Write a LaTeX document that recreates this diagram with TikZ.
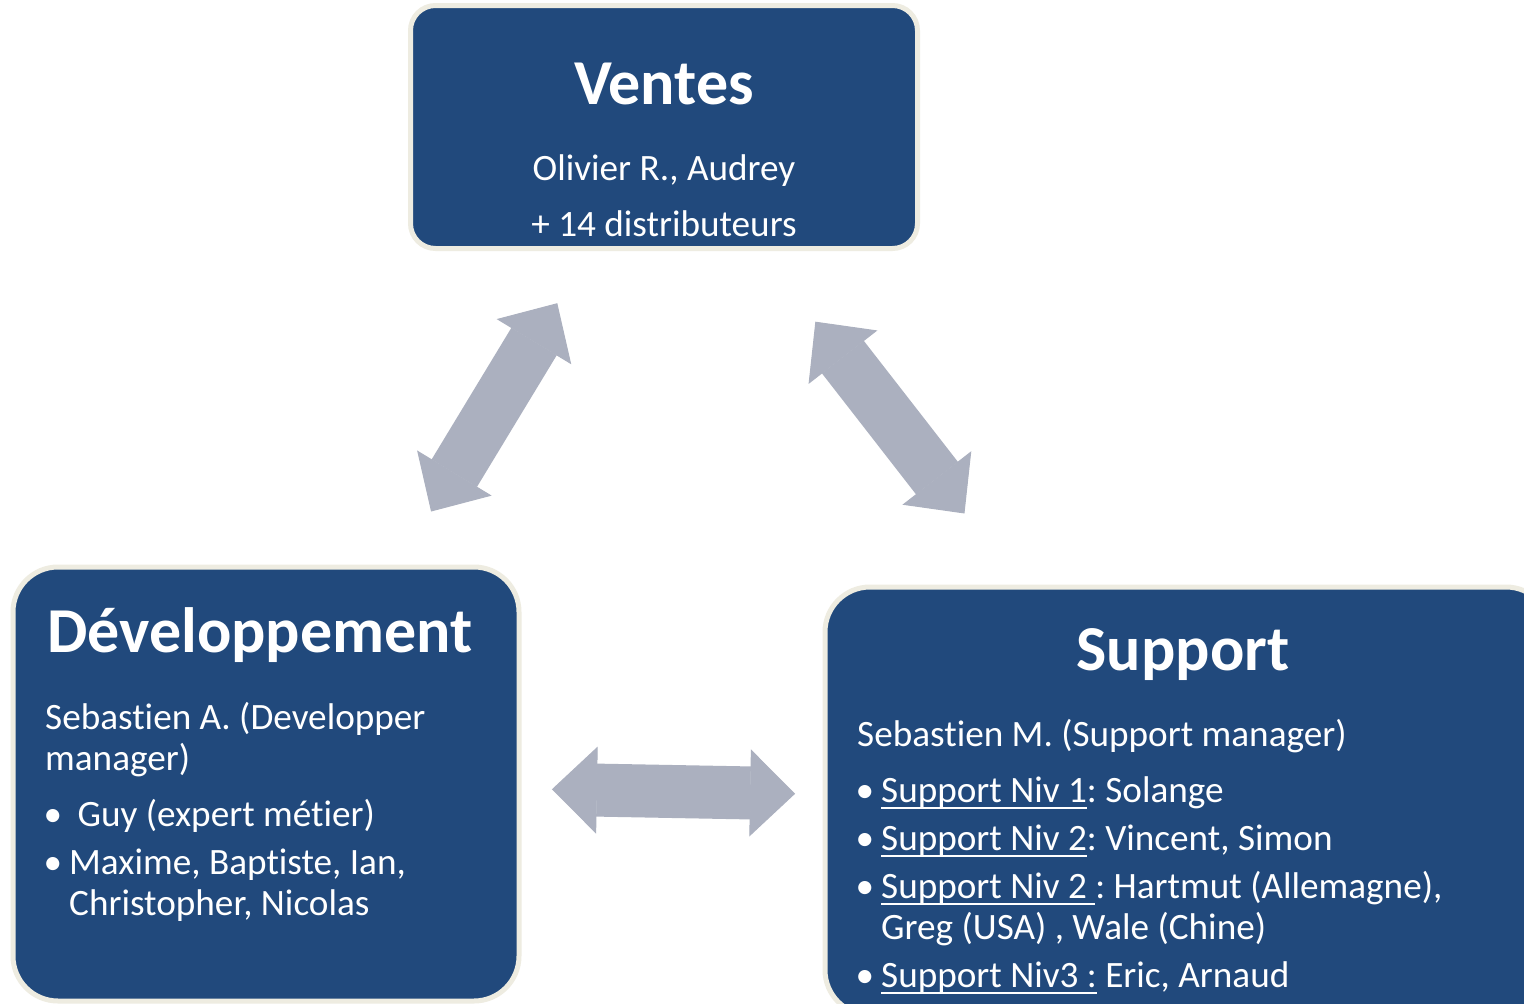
\documentclass[tikz,border=0pt]{standalone}
\usepackage{fontspec}
\setmainfont{Carlito}[Ligatures=NoCommon]
\usepackage{tikz}
\usetikzlibrary{arrows.meta}
\definecolor{bleufonce}{RGB}{33,73,124}
\definecolor{beigebord}{RGB}{238,236,225}
\definecolor{grisfleche}{RGB}{171,176,191}
\tikzset{
  bloc/.style={draw=beigebord,line width=5pt,fill=bleufonce,rounded corners=#1,inner sep=0pt},
  titre/.style={text=white,font=\fontsize{64}{70}\selectfont\bfseries,inner sep=0pt,anchor=base},
  texte/.style={text=white,font=\fontsize{37.2}{41}\selectfont,inner sep=0pt,anchor=base west},
  fleche/.style={draw=grisfleche,line width=53pt,line cap=butt,
    {Triangle[length=45pt,width=87pt,line width=1pt]}-{Triangle[length=45pt,width=87pt,line width=1pt]}}
}
\frenchspacing
\newcommand{\souligne}[1]{\setbox0\hbox{#1}\rlap{\rule[-7pt]{\wd0}{2pt}}\box0\relax}
\newcommand{\puce}{\llap{\textbullet\hspace{7pt}}}

\begin{document}
\begin{tikzpicture}[x=1pt,y=-1pt]
                \useasboundingbox (0,0) rectangle (1524,1004);
                \clip (0,0) rectangle (1524,1004);
                \fill[white] (0,0) rectangle (1524,1004);
                % les trois blocs
                \node[bloc=25pt,minimum width=507pt,minimum height=243pt] (ventes) at (664,127) {};
                \node[bloc=45pt,minimum width=506pt,minimum height=434pt] (dev) at (266,784) {};
                \node[bloc=45pt,minimum width=726pt,minimum height=428pt] (support) at (1188,801) {};
                % les fleches
                \draw[fleche,shorten <=206pt,shorten >=318.6pt] (ventes.center) -- (dev.center);
                \draw[fleche,shorten <=246.6pt,shorten >=364.2pt] (ventes.center) -- (support.center);
                \draw[fleche,shorten <=286pt,shorten >=393pt] (dev.center) -- (support.center);
                % Ventes
                \node[titre] (tventes) at (664,104) {Ventes};
                \node[texte,anchor=base] (ventes1) at (664,180) {Olivier R., Audrey};
                \node[texte,anchor=base] (ventes2) at (664,236) {+ 14 distributeurs};
                % Developpement
                \node[titre,anchor=base west] (tdev) at (47,652) {Développement};
                \node[texte] (dev1) at (45,729) {Sebastien A. (Developper};
                \node[texte] (dev2) at (45,770) {manager)};
                \node[texte] (dev3) at (69,826) {\puce\ Guy (expert métier)};
                \node[texte] (dev4) at (69,874) {\puce Maxime, Baptiste, Ian,};
                \node[texte] (dev5) at (69,915) {Christopher, Nicolas};
                % Support
                \node[titre] (tsupport) at (1183,670) {Support};
                \node[texte] (sup1) at (857,746) {Sebastien M. (Support manager)};
                \node[texte] (sup2) at (881,802) {\puce\souligne{Support Niv 1}: Solange};
                \node[texte] (sup3) at (881,850) {\puce\souligne{Support Niv 2}: Vincent, Simon};
                \node[texte] (sup4) at (881,898) {\puce\souligne{Support Niv 2 }: Hartmut (Allemagne),};
                \node[texte] (sup5) at (881,939) {Greg (USA) , Wale (Chine)};
                \node[texte] (sup6) at (881,987) {\puce\souligne{Support Niv3 :} Eric, Arnaud};
\end{tikzpicture}
\end{document}
